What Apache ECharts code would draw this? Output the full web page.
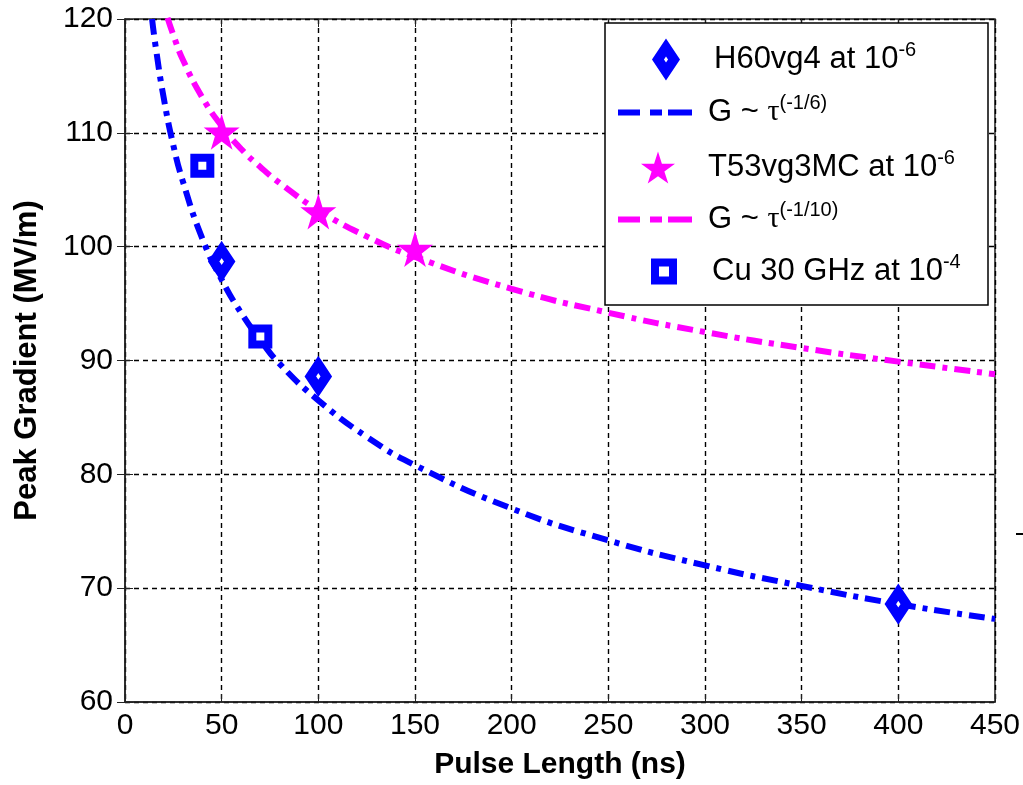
<!DOCTYPE html>
<html>
<head>
<meta charset="utf-8">
<script src="https://cdn.jsdelivr.net/npm/echarts@6/dist/echarts.min.js"></script>
<style>
  html, body { margin: 0; padding: 0; background: #fff; }
  #chart { width: 1023px; height: 785px; }
</style>
</head>
<body>
<div id="chart"></div>
<script>
// measured points
var h60X = [50, 100, 400];
var h60Y = [98.7, 88.6, 68.6];
var t53X = [50, 100, 150];
var t53Y = [110.1, 103.1, 99.8];
var cuX = [40, 70];
var cuY = [107.1, 92.1];

// fit curves
var fit6X = [14, 16, 20, 25, 30, 40, 50, 60, 70, 80, 100, 125, 150, 200, 250, 300, 350, 400, 450];
var fit6Y = [120.0, 117.4, 113.1, 108.9, 105.7, 100.7, 97.1, 94.2, 91.8, 89.7, 86.5, 83.3, 80.8, 77.0, 74.2, 72.0, 70.2, 68.6, 67.3];
var fit10X = [22, 25, 30, 40, 50, 60, 70, 80, 100, 125, 150, 200, 250, 300, 350, 400, 450];
var fit10Y = [120.1, 118.6, 116.4, 113.1, 110.6, 108.6, 107.0, 105.6, 103.2, 100.9, 99.1, 96.3, 94.2, 92.5, 91.1, 89.9, 88.8];

function pairs(xs, ys) {
    return xs.map(function (x, i) { return [x, ys[i]]; });
}

var BLUE = '#0000ff';
var PINK = '#ff00ff';
var STAR = 'path://M50,0 L61,35 L98,35 L68,57 L79,91 L50,70 L21,91 L32,57 L2,35 L39,35 Z';
var DASHDOT = 'path://M0,0h22v6h-22zM32,0h12v6h-12zM50,0h24v6h-24z';
var FONT = 'Liberation Sans, Arial, sans-serif';

var legendText = {
    fontFamily: FONT,
    fontSize: 31,
    color: '#000',
    rich: {
        b: { fontFamily: FONT, fontSize: 31, color: '#000' },
        sup: { fontFamily: FONT, fontSize: 20, color: '#000', padding: [0, 0, 19, 0] },
        tau: { fontFamily: 'Liberation Serif', fontSize: 30, color: '#000' }
    }
};

// one legend block per row so every row can have its own icon size
function legendRow(name, icon, left, top, w, h, pad, style) {
    var ts = echarts.util.clone(legendText);
    ts.padding = [0, 0, 0, pad];
    return {
        left: left,
        top: top,
        padding: 0,
        itemWidth: w,
        itemHeight: h,
        z: 6,
        selectedMode: false,
        textStyle: ts,
        formatter: function (n) {
            if (n === 'H60vg4') return '{b|H60vg4 at 10}{sup|-6}';
            if (n === 'fit6') return '{b|G ~ }{tau|τ}{sup|(-1/6)}';
            if (n === 'T53vg3MC') return '{b|T53vg3MC at 10}{sup|-6}';
            if (n === 'fit10') return '{b|G ~ }{tau|τ}{sup|(-1/10)}';
            return '{b|Cu 30 GHz at 10}{sup|-4}';
        },
        data: [{ name: name, icon: icon, itemStyle: style }]
    };
}

var chart = echarts.init(document.getElementById('chart'));
var option = {
    animation: false,
    backgroundColor: '#fff',
    grid: {
        left: 125,
        right: 28,
        top: 19,
        bottom: 82,
        show: true,
        borderColor: '#222',
        borderWidth: 1.5
    },
    legend: [
        legendRow('H60vg4', 'diamond', 653, 40, 16, 24, 35, { color: '#fff', borderColor: BLUE, borderWidth: 10, opacity: 1 }),
        legendRow('fit6', DASHDOT, 618, 93, 74, 6, 11, { color: BLUE, borderWidth: 0, opacity: 1 }),
        legendRow('T53vg3MC', STAR, 641, 148, 34, 34, 28, { color: PINK, borderWidth: 0, opacity: 1 }),
        legendRow('fit10', DASHDOT, 618, 200, 74, 6, 11, { color: PINK, borderWidth: 0, opacity: 1 }),
        legendRow('Cu', 'rect', 651, 252, 18, 18, 34, { color: '#fff', borderColor: BLUE, borderWidth: 8, opacity: 1 })
    ],
    xAxis: [
        {
            type: 'value',
            min: 0,
            max: 450,
            interval: 50,
            name: 'Pulse Length (ns)',
            nameLocation: 'middle',
            nameGap: 48,
            nameTextStyle: { fontFamily: FONT, fontSize: 30, fontWeight: 'bold', color: '#000' },
            axisLine: { show: true, lineStyle: { color: '#222', width: 1.5 } },
            axisTick: { show: true, inside: true, length: 8, lineStyle: { color: '#222' } },
            axisLabel: { fontFamily: FONT, fontSize: 30, color: '#000', margin: 9 },
            splitLine: { show: true, lineStyle: { color: '#000', type: [5, 4], width: 1.4 } }
        },
        {
            type: 'value',
            position: 'top',
            min: 0,
            max: 450,
            interval: 50,
            axisLine: { show: false },
            axisTick: { show: true, inside: true, length: 8, lineStyle: { color: '#222' } },
            axisLabel: { show: false },
            splitLine: { show: false }
        }
    ],
    yAxis: [
        {
            type: 'value',
            min: 60,
            max: 120,
            interval: 10,
            name: 'Peak Gradient (MV/m)',
            nameLocation: 'middle',
            nameGap: 82,
            nameTextStyle: { fontFamily: FONT, fontSize: 31, fontWeight: 'bold', color: '#000' },
            axisLine: { show: true, lineStyle: { color: '#222', width: 1.5 } },
            axisTick: { show: true, inside: true, length: 8, lineStyle: { color: '#222' } },
            axisLabel: { fontFamily: FONT, fontSize: 30, color: '#000', margin: 12 },
            splitLine: { show: true, lineStyle: { color: '#000', type: [5, 4], width: 1.4 } }
        },
        {
            type: 'value',
            position: 'right',
            min: 60,
            max: 120,
            interval: 10,
            axisLine: { show: false },
            axisTick: { show: true, inside: true, length: 8, lineStyle: { color: '#222' } },
            axisLabel: { show: false },
            splitLine: { show: false }
        }
    ],
    series: [
        {
            name: 'fit6',
            type: 'line',
            data: pairs(fit6X, fit6Y),
            smooth: true,
            symbol: 'none',
            clip: true,
            lineStyle: { color: BLUE, width: 6, type: [16, 7, 5, 7] },
            itemStyle: { color: BLUE },
            z: 2
        },
        {
            name: 'fit10',
            type: 'line',
            data: pairs(fit10X, fit10Y),
            smooth: true,
            symbol: 'none',
            clip: true,
            lineStyle: { color: PINK, width: 6, type: [16, 7, 5, 7] },
            itemStyle: { color: PINK },
            z: 2
        },
        {
            name: 'H60vg4',
            type: 'scatter',
            data: pairs(h60X, h60Y),
            symbol: 'diamond',
            symbolSize: [16, 24],
            itemStyle: { color: '#fff', borderColor: BLUE, borderWidth: 10, opacity: 1 },
            z: 3
        },
        {
            name: 'T53vg3MC',
            type: 'scatter',
            data: pairs(t53X, t53Y),
            symbol: STAR,
            symbolSize: 36,
            itemStyle: { color: PINK, opacity: 1 },
            z: 3
        },
        {
            name: 'Cu',
            type: 'scatter',
            data: pairs(cuX, cuY),
            symbol: 'rect',
            symbolSize: 16,
            itemStyle: { color: '#fff', borderColor: BLUE, borderWidth: 8, opacity: 1 },
            z: 3
        }
    ],
    graphic: [
        {
            type: 'rect',
            z: 5,
            shape: { x: 605, y: 23, width: 383, height: 282 },
            style: { fill: '#fff', stroke: '#000', lineWidth: 1.5 }
        },
        {
            type: 'line',
            z: 5,
            shape: { x1: 1016, y1: 534, x2: 1023, y2: 534 },
            style: { stroke: '#000', lineWidth: 2 }
        }
    ]
};
chart.setOption(option);
</script>
</body>
</html>
